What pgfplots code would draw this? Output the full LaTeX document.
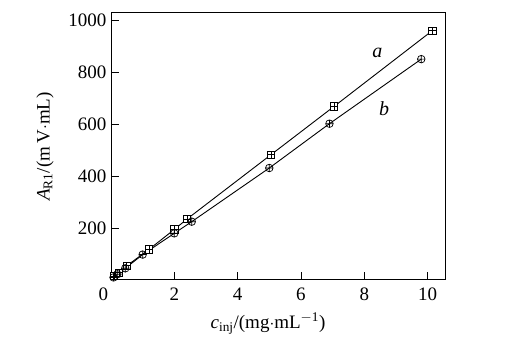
\documentclass[border=0pt]{standalone}
\usepackage{pgfplots}
\pgfplotsset{compat=1.18}
\usepackage{fontspec}
\setmainfont{Liberation Serif}
\pgfdeclareplotmark{boxplus}{%
  \pgfpathrectangle{\pgfpoint{-\pgfplotmarksize}{-\pgfplotmarksize}}{\pgfpoint{2\pgfplotmarksize}{2\pgfplotmarksize}}%
  \pgfusepathqfillstroke
  \pgfpathmoveto{\pgfpoint{-\pgfplotmarksize}{0pt}}\pgfpathlineto{\pgfpoint{\pgfplotmarksize}{0pt}}%
  \pgfpathmoveto{\pgfpoint{0pt}{-\pgfplotmarksize}}\pgfpathlineto{\pgfpoint{0pt}{\pgfplotmarksize}}%
  \pgfusepathqstroke}
\begin{document}
\begin{tikzpicture}[x=1pt,y=1pt]
\useasboundingbox (0,0) rectangle (508,352);
\begin{axis}[
  at={(111pt,72pt)}, anchor=south west,
  scale only axis, width=334pt, height=267pt,
  xmin=0, xmax=10.55, ymin=0, ymax=1030,
  xtick={0,2,4,6,8,10},
  xticklabels={\makebox[0pt][r]{0\hspace{3pt}},2,4,6,8,10},
  ytick={200,400,600,800,1000},
  yticklabels={200,400,600,800,1000},
  tick align=inside, tick pos=left,
  major tick length=8pt,
  axis line style={line width=1pt},
  tick style={line width=0.9pt, black},
  tick label style={font=\fontsize{19}{19}\selectfont},
  label style={font=\fontsize{19}{19}\selectfont},
  xticklabel style={yshift=-4pt},
  yticklabel style={xshift=-1pt},
  xlabel={\textit{c}\textsubscript{inj}/(mg$\cdot$mL\textsuperscript{$-$1})},
  ylabel={\textit{A}\textsubscript{R1}/(m\,V$\cdot$mL)},
  xlabel style={yshift=-6pt, xshift=-10pt},
  ylabel style={yshift=8pt},
  clip=false,
]
\addplot[black, line width=0.9pt, mark=boxplus, mark size=3.6pt, mark options={fill=white, line width=0.7pt}] coordinates {
  (0.1,15) (0.25,28) (0.5,55) (1.2,118) (2,195) (2.4,235) (5.05,483) (7.05,670) (10.15,962)
};
\addplot[black, line width=0.9pt, mark=oplus, mark size=3.8pt, mark options={fill=white, line width=0.7pt}] coordinates {
  (0.08,10) (0.2,22) (0.45,45) (1.0,98) (2.0,180) (2.55,225) (5.0,432) (6.9,603) (9.8,852)
};
\node[font=\fontsize{20}{20}\selectfont\itshape] at (axis cs:8.41,877) {a};
\node[font=\fontsize{20}{20}\selectfont\itshape] at (axis cs:8.63,662) {b};
\end{axis}
\end{tikzpicture}
\end{document}
